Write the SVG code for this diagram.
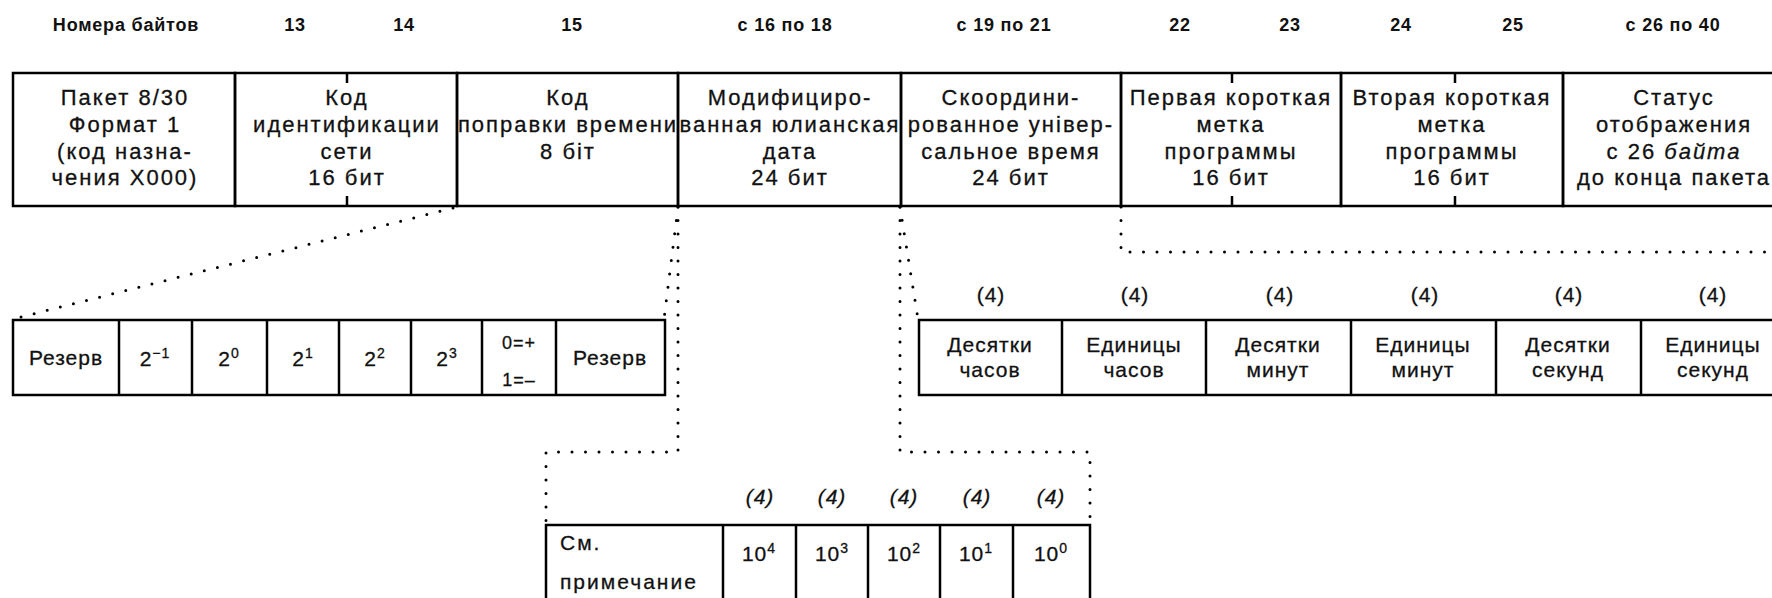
<svg xmlns="http://www.w3.org/2000/svg" width="1772" height="598" viewBox="0 0 1772 598">
<style>
.b{fill:none;stroke:#000;stroke-width:2.5}
.l{stroke:#000;stroke-width:2.5}
.d{fill:none;stroke:#000;stroke-width:3;stroke-linecap:round;stroke-dasharray:0 13.5}
text{font-family:"Liberation Sans",Arial,sans-serif;fill:#111;stroke:#111;stroke-width:0.3}
.h{font-size:18px;font-weight:bold;letter-spacing:0.8px;text-anchor:middle;stroke-width:0}
.t{font-size:22px;letter-spacing:2px;text-anchor:middle}
.s{font-size:21px;letter-spacing:1px;text-anchor:middle}
.sup{font-size:14px}
.i{font-style:italic}
</style>
<rect width="1772" height="598" fill="#fff"/>

<g id="header">
<text class="h" x="126" y="31">Номера байтов</text>
<text class="h" x="295" y="31">13</text>
<text class="h" x="404" y="31">14</text>
<text class="h" x="572" y="31">15</text>
<text class="h" x="785" y="31">с 16 по 18</text>
<text class="h" x="1004" y="31">с 19 по 21</text>
<text class="h" x="1180" y="31">22</text>
<text class="h" x="1290" y="31">23</text>
<text class="h" x="1401" y="31">24</text>
<text class="h" x="1513" y="31">25</text>
<text class="h" x="1673" y="31">с 26 по 40</text>
</g>

<g id="packet">
<rect class="b" x="13" y="73" width="222" height="133"/>
<text class="t" x="125" y="105">Пакет 8/30</text>
<text class="t" x="125" y="132">Формат 1</text>
<text class="t" x="125" y="159">(код назна-</text>
<text class="t" x="125" y="185">чения X000)</text>
</g>
<g id="network-id">
<rect class="b" x="235" y="73" width="222" height="133"/>
<line class="l" x1="347" y1="73" x2="347" y2="83"/>
<line class="l" x1="347" y1="196" x2="347" y2="206"/>
<text class="t" x="347" y="105">Код</text>
<text class="t" x="347" y="132">идентификации</text>
<text class="t" x="347" y="159">сети</text>
<text class="t" x="347" y="185">16 бит</text>
</g>
<g id="time-offset">
<rect class="b" x="457" y="73" width="221" height="133"/>
<text class="t" x="568" y="105">Код</text>
<text class="t" x="568" y="132">поправки времени</text>
<text class="t" x="568" y="159">8 біт</text>
</g>
<g id="mjd">
<rect class="b" x="678" y="73" width="223" height="133"/>
<text class="t" x="790" y="105">Модифициро-</text>
<text class="t" x="790" y="132">ванная юлианская</text>
<text class="t" x="790" y="159">дата</text>
<text class="t" x="790" y="185">24 бит</text>
</g>
<g id="utc">
<rect class="b" x="901" y="73" width="220" height="133"/>
<text class="t" x="1011" y="105">Скоордини-</text>
<text class="t" x="1011" y="132">рованное універ-</text>
<text class="t" x="1011" y="159">сальное время</text>
<text class="t" x="1011" y="185">24 бит</text>
</g>
<g id="pil1">
<rect class="b" x="1121" y="73" width="220" height="133"/>
<line class="l" x1="1232" y1="73" x2="1232" y2="83"/>
<line class="l" x1="1232" y1="196" x2="1232" y2="206"/>
<text class="t" x="1231" y="105">Первая короткая</text>
<text class="t" x="1231" y="132">метка</text>
<text class="t" x="1231" y="159">программы</text>
<text class="t" x="1231" y="185">16 бит</text>
</g>
<g id="pil2">
<rect class="b" x="1341" y="73" width="222" height="133"/>
<line class="l" x1="1455" y1="73" x2="1455" y2="83"/>
<line class="l" x1="1455" y1="196" x2="1455" y2="206"/>
<text class="t" x="1452" y="105">Вторая короткая</text>
<text class="t" x="1452" y="132">метка</text>
<text class="t" x="1452" y="159">программы</text>
<text class="t" x="1452" y="185">16 бит</text>
</g>
<g id="status">
<rect class="b" x="1563" y="73" width="222" height="133"/>
<text class="t" x="1674" y="105">Статус</text>
<text class="t" x="1674" y="132">отображения</text>
<text class="t" x="1674" y="159">с 26 <tspan class="i">байта</tspan></text>
<text class="t" x="1674" y="185">до конца пакета</text>
</g>

<g id="connectors">
<line class="d" x1="453" y1="208" x2="13" y2="319"/>
<line class="d" x1="678" y1="207" x2="664" y2="319"/>
<polyline class="d" points="678,207 678,452 546,452 546,525"/>
<polyline class="d" points="900,207 900,452 1090,452 1090,525"/>
<line class="d" x1="900" y1="207" x2="918" y2="319"/>
<polyline class="d" points="1121,207 1121,252 1785,252"/>
</g>

<g id="offset-bits">
<rect class="b" x="13" y="320" width="652" height="75"/>
<line class="l" x1="119" y1="320" x2="119" y2="395"/>
<line class="l" x1="192" y1="320" x2="192" y2="395"/>
<line class="l" x1="267" y1="320" x2="267" y2="395"/>
<line class="l" x1="339" y1="320" x2="339" y2="395"/>
<line class="l" x1="411" y1="320" x2="411" y2="395"/>
<line class="l" x1="482" y1="320" x2="482" y2="395"/>
<line class="l" x1="556" y1="320" x2="556" y2="395"/>
<text class="s" x="66" y="365">Резерв</text>
<text class="s" x="155" y="366">2<tspan class="sup" dy="-8">−1</tspan></text>
<text class="s" x="229" y="366">2<tspan class="sup" dy="-8">0</tspan></text>
<text class="s" x="303" y="366">2<tspan class="sup" dy="-8">1</tspan></text>
<text class="s" x="375" y="366">2<tspan class="sup" dy="-8">2</tspan></text>
<text class="s" x="447" y="366">2<tspan class="sup" dy="-8">3</tspan></text>
<text class="s" x="519" y="349" style="font-size:18px">0=+</text>
<text class="s" x="519" y="386" style="font-size:18px">1=–</text>
<text class="s" x="610" y="365">Резерв</text>
</g>

<g id="utc-digits">
<text class="s" x="991" y="302">(4)</text>
<text class="s" x="1135" y="302">(4)</text>
<text class="s" x="1280" y="302">(4)</text>
<text class="s" x="1425" y="302">(4)</text>
<text class="s" x="1569" y="302">(4)</text>
<text class="s" x="1713" y="302">(4)</text>
<rect class="b" x="919" y="320" width="866" height="75"/>
<line class="l" x1="1062" y1="320" x2="1062" y2="395"/>
<line class="l" x1="1206" y1="320" x2="1206" y2="395"/>
<line class="l" x1="1351" y1="320" x2="1351" y2="395"/>
<line class="l" x1="1496" y1="320" x2="1496" y2="395"/>
<line class="l" x1="1641" y1="320" x2="1641" y2="395"/>
<text class="s" x="990" y="352">Десятки</text>
<text class="s" x="990" y="377">часов</text>
<text class="s" x="1134" y="352">Единицы</text>
<text class="s" x="1134" y="377">часов</text>
<text class="s" x="1278" y="352">Десятки</text>
<text class="s" x="1278" y="377">минут</text>
<text class="s" x="1423" y="352">Единицы</text>
<text class="s" x="1423" y="377">минут</text>
<text class="s" x="1568" y="352">Десятки</text>
<text class="s" x="1568" y="377">секунд</text>
<text class="s" x="1713" y="352">Единицы</text>
<text class="s" x="1713" y="377">секунд</text>
</g>

<g id="mjd-digits">
<text class="s i" x="760" y="504">(4)</text>
<text class="s i" x="832" y="504">(4)</text>
<text class="s i" x="904" y="504">(4)</text>
<text class="s i" x="977" y="504">(4)</text>
<text class="s i" x="1051" y="504">(4)</text>
<rect class="b" x="546" y="525" width="544" height="90"/>
<line class="l" x1="723" y1="525" x2="723" y2="615"/>
<line class="l" x1="796" y1="525" x2="796" y2="615"/>
<line class="l" x1="868" y1="525" x2="868" y2="615"/>
<line class="l" x1="940" y1="525" x2="940" y2="615"/>
<line class="l" x1="1013" y1="525" x2="1013" y2="615"/>
<text x="560" y="550" style="font-size:21px;letter-spacing:2px">См.</text>
<text x="560" y="589" style="font-size:21px;letter-spacing:2px">примечание</text>
<text class="s" x="759" y="561">10<tspan class="sup" dy="-8">4</tspan></text>
<text class="s" x="832" y="561">10<tspan class="sup" dy="-8">3</tspan></text>
<text class="s" x="904" y="561">10<tspan class="sup" dy="-8">2</tspan></text>
<text class="s" x="976" y="561">10<tspan class="sup" dy="-8">1</tspan></text>
<text class="s" x="1051" y="561">10<tspan class="sup" dy="-8">0</tspan></text>
</g>
</svg>
